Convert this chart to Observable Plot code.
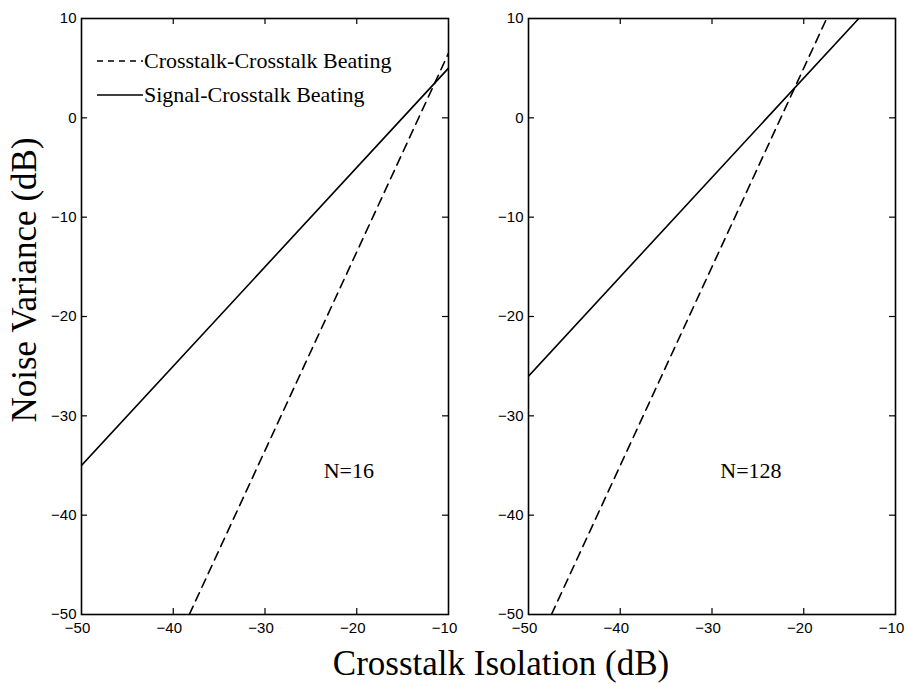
<!DOCTYPE html>
<html>
<head>
<meta charset="utf-8">
<script src="https://cdn.jsdelivr.net/npm/d3@7"></script>
<script src="https://cdn.jsdelivr.net/npm/@observablehq/plot@0.6"></script>
<style>
  body { margin: 0; background: #fff; }
  #chart { position: relative; width: 907px; height: 684px; background: #fff; overflow: hidden; }
  #chart svg { position: absolute; top: 0; }
</style>
</head>
<body>
<div id="chart"></div>
<script>
// Axis ticks shared by both panels (dB)
const isolationTicks = [-50, -40, -30, -20, -10];
const varianceTicks = [-50, -40, -30, -20, -10, 0, 10];

// Panel labels (number of channels)
const panelNames = ["N=16", "N=128"];

// N=16: noise variance vs crosstalk isolation (line end points, dB)
const scbIso16 = [-50, -10];
const scbVar16 = [-35, 5];
const ccbIso16 = [-38.25, -10];
const ccbVar16 = [-50, 6.5];

// N=128
const scbIso128 = [-50, -14];
const scbVar128 = [-26, 10];
const ccbIso128 = [-47.5, -17.5];
const ccbVar128 = [-50, 10];

// Legend entries
const seriesNames = ["Crosstalk-Crosstalk Beating", "Signal-Crosstalk Beating"];

// Where each panel's N label sits, in data units
const nLabelIso = [-23.6, -29.1];
const nLabelVar = [-35.5, -35.5];

const toRows = (xs, ys) => xs.map((x, i) => ({x, y: ys[i]}));

const panels = [
  {name: panelNames[0], scb: toRows(scbIso16, scbVar16), ccb: toRows(ccbIso16, ccbVar16), left: 0, marginRight: 12},
  {name: panelNames[1], scb: toRows(scbIso128, scbVar128), ccb: toRows(ccbIso128, ccbVar128), left: 447, marginRight: 12}
];

const chart = document.getElementById("chart");
const W = 460, H = 640, mL = 81, mT = 18, mB = 26, tickLen = 6;
const innerH = H - mT - mB;

panels.forEach((p, i) => {
  const innerW = W - mL - p.marginRight;
  const inner = (arr) => arr.slice(1, -1);
  const svg = Plot.plot({
    width: W,
    height: H,
    marginLeft: mL,
    marginRight: p.marginRight,
    marginTop: mT,
    marginBottom: mB,
    style: {fontFamily: "'Liberation Sans', Arial, sans-serif", fontSize: "15px", background: "transparent", color: "#000", overflow: "visible"},
    x: {domain: [-50, -10], label: null},
    y: {domain: [-50, 10], label: null},
    marks: [
      // inward tick marks on all four sides
      Plot.ruleX(inner(isolationTicks), {stroke: "#000", strokeWidth: 1.2, insetTop: innerH - tickLen}),
      Plot.ruleX(inner(isolationTicks), {stroke: "#000", strokeWidth: 1.2, insetBottom: innerH - tickLen}),
      Plot.ruleY(inner(varianceTicks), {stroke: "#000", strokeWidth: 1.2, insetRight: innerW - tickLen}),
      Plot.ruleY(inner(varianceTicks), {stroke: "#000", strokeWidth: 1.2, insetLeft: innerW - tickLen}),
      Plot.axisX(isolationTicks, {anchor: "bottom", tickSize: 0, tickPadding: 8, dx: -4, label: null}),
      Plot.axisY(varianceTicks, {anchor: "left", tickSize: 0, tickPadding: 5, label: null}),
      Plot.line(p.ccb, {x: "x", y: "y", stroke: "#000", strokeWidth: 1.6, strokeDasharray: "9,6", clip: true}),
      Plot.line(p.scb, {x: "x", y: "y", stroke: "#000", strokeWidth: 1.6, clip: true}),
      Plot.text([p.name], {x: nLabelIso[i], y: nLabelVar[i], text: d => d, textAnchor: "start", fontFamily: "'Liberation Serif', 'Times New Roman', serif", fontSize: 22, fill: "#000"}),
      Plot.frame({stroke: "#000", strokeWidth: 1.6})
    ]
  });
  svg.style.left = p.left + "px";
  chart.appendChild(svg);
});

// Shared axis titles and the legend
const serif = "'Liberation Serif', 'Times New Roman', serif";
const overlay = d3.create("svg")
  .attr("width", 907).attr("height", 684)
  .style("left", "0px").style("pointer-events", "none");

overlay.append("text")
  .attr("x", 501).attr("y", 675)
  .attr("text-anchor", "middle")
  .attr("font-family", serif).attr("font-size", 35)
  .text("Crosstalk Isolation (dB)");

overlay.append("text")
  .attr("transform", "translate(36,280) rotate(-90)")
  .attr("text-anchor", "middle")
  .attr("font-family", serif).attr("font-size", 35)
  .text("Noise Variance (dB)");

const legendRows = [
  {name: seriesNames[0], dash: "6,5", y: 61},
  {name: seriesNames[1], dash: null, y: 95}
];
const lg = overlay.append("g");
legendRows.forEach(r => {
  lg.append("line")
    .attr("x1", 97).attr("x2", 143).attr("y1", r.y).attr("y2", r.y)
    .attr("stroke", "#000").attr("stroke-width", 1.4)
    .attr("stroke-dasharray", r.dash);
  lg.append("text")
    .attr("x", 144).attr("y", r.y + 7)
    .attr("font-family", serif).attr("font-size", 22)
    .text(r.name);
});

chart.appendChild(overlay.node());
</script>
</body>
</html>
